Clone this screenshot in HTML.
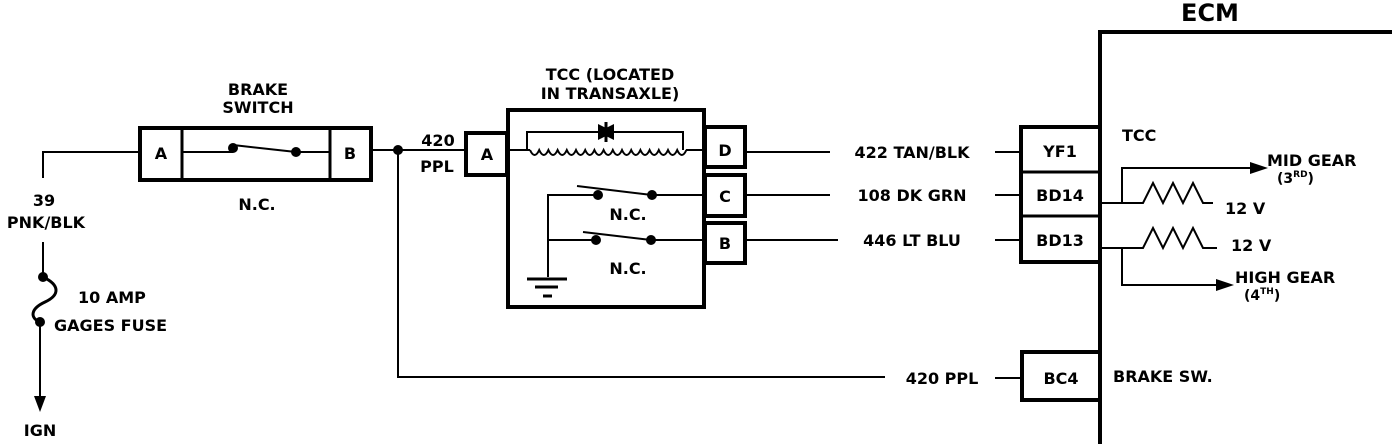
<!DOCTYPE html>
<html><head><meta charset="utf-8"><style>
html,body{margin:0;padding:0;background:#fff}
svg{display:block}
text{font-family:"DejaVu Sans","Liberation Sans",sans-serif;font-weight:bold;fill:#000}
</style></head><body>
<svg width="1392" height="444" viewBox="0 0 1392 444" xmlns="http://www.w3.org/2000/svg">
<g stroke="#000" fill="none" stroke-width="2">
<!-- left feed -->
<polyline points="140,152 43,152 43,178"/>
<line x1="43" y1="242" x2="43" y2="277"/>
<path d="M43,277 C60,285 60,295 45,302 C30,309 30,318 40,322" stroke-width="3"/>
<line x1="40" y1="322" x2="40" y2="398"/>
<!-- brake switch -->
<rect x="140" y="128" width="231" height="52" stroke-width="4"/>
<line x1="182" y1="128" x2="182" y2="180" stroke-width="3"/>
<line x1="330" y1="128" x2="330" y2="180" stroke-width="3"/>
<line x1="182" y1="152" x2="233" y2="152"/>
<line x1="233" y1="145" x2="296" y2="152"/>
<line x1="296" y1="152" x2="330" y2="152"/>
<!-- 420 ppl -->
<line x1="371" y1="150" x2="466" y2="150"/>
<polyline points="398,150 398,377 885,377"/>
<!-- TCC -->
<rect x="466" y="133" width="41" height="42" stroke-width="4"/>
<rect x="508" y="110" width="196" height="197" stroke-width="4"/>
<line x1="508" y1="150" x2="530" y2="150"/>
<path d="M530,150 q4.6,10 9.2,0 q4.6,10 9.2,0 q4.6,10 9.2,0 q4.6,10 9.2,0 q4.6,10 9.2,0 q4.6,10 9.2,0 q4.6,10 9.2,0 q4.6,10 9.2,0 q4.6,10 9.2,0 q4.6,10 9.2,0 q4.6,10 9.2,0 q4.6,10 9.2,0 q4.6,10 9.2,0 q4.6,10 9.2,0 q4.6,10 9.2,0 q4.6,10 9.2,0 q4.6,10 9.2,0"/>
<line x1="686" y1="150" x2="704" y2="150"/>
<polyline points="527,150 527,132 683,132 683,150"/>
<line x1="606" y1="122" x2="606" y2="142" stroke-width="3"/>
<polyline points="548,277 548,195 598,195"/>
<line x1="577" y1="186" x2="652" y2="195"/>
<line x1="652" y1="195" x2="705" y2="195"/>
<polyline points="548,240 596,240"/>
<line x1="583" y1="232" x2="651" y2="240"/>
<line x1="651" y1="240" x2="705" y2="240"/>
<line x1="527" y1="279" x2="567" y2="279" stroke-width="3"/>
<line x1="535" y1="287" x2="558" y2="287" stroke-width="3"/>
<line x1="543" y1="296" x2="552" y2="296" stroke-width="3"/>
<rect x="705" y="127" width="40" height="40" stroke-width="4"/>
<rect x="705" y="175" width="40" height="41" stroke-width="4"/>
<rect x="705" y="223" width="40" height="40" stroke-width="4"/>
<!-- wires to ECM -->
<line x1="745" y1="152" x2="830" y2="152"/>
<line x1="995" y1="152" x2="1020" y2="152"/>
<line x1="745" y1="195" x2="830" y2="195"/>
<line x1="995" y1="195" x2="1020" y2="195"/>
<line x1="745" y1="240" x2="838" y2="240"/>
<line x1="995" y1="240" x2="1020" y2="240"/>
<line x1="995" y1="378" x2="1022" y2="378"/>
<!-- ECM -->
<polyline points="1392,32 1100,32 1100,444" stroke-width="4"/>
<rect x="1021" y="127" width="79" height="135" stroke-width="4"/>
<line x1="1021" y1="172" x2="1100" y2="172" stroke-width="3"/>
<line x1="1021" y1="216" x2="1100" y2="216" stroke-width="3"/>
<rect x="1022" y="352" width="78" height="48" stroke-width="4"/>
<!-- outputs -->
<polyline points="1100,203 1143,203 1153,183 1163,203 1173,183 1183,203 1193,183 1203,203 1213,203"/>
<polyline points="1122,203 1122,168 1255,168"/>
<polyline points="1100,248 1143,248 1153,228 1163,248 1173,228 1183,248 1193,228 1203,248 1217,248"/>
<polyline points="1122,248 1122,285 1222,285"/>
</g>
<g fill="#000">
<circle cx="43" cy="277" r="5"/><circle cx="40" cy="322" r="5"/>
<polygon points="34,396 46,396 40,412"/>
<circle cx="233" cy="148" r="5"/><circle cx="296" cy="152" r="5"/>
<circle cx="398" cy="150" r="5"/>
<polygon points="598,124 598,140 614,132"/>
<polygon points="614,124 614,140 598,132"/>
<circle cx="598" cy="195" r="5"/><circle cx="652" cy="195" r="5"/>
<circle cx="596" cy="240" r="5"/><circle cx="651" cy="240" r="5"/>
<polygon points="1250,162 1268,168 1250,174"/>
<polygon points="1216,279 1234,285 1216,291"/>
</g>
<g font-size="16">
<text x="44" y="206" text-anchor="middle">39</text>
<text x="46" y="228" text-anchor="middle">PNK/BLK</text>
<text x="78" y="303">10 AMP</text>
<text x="54" y="331">GAGES FUSE</text>
<text x="40" y="436" text-anchor="middle">IGN</text>
<text x="258" y="95" text-anchor="middle">BRAKE</text>
<text x="258" y="113" text-anchor="middle">SWITCH</text>
<text x="161" y="159" text-anchor="middle">A</text>
<text x="350" y="159" text-anchor="middle">B</text>
<text x="257" y="210" text-anchor="middle">N.C.</text>
<text x="438" y="146" text-anchor="middle">420</text>
<text x="437" y="172" text-anchor="middle">PPL</text>
<text x="487" y="160" text-anchor="middle">A</text>
<text x="610" y="80" text-anchor="middle">TCC (LOCATED</text>
<text x="610" y="99" text-anchor="middle">IN TRANSAXLE)</text>
<text x="628" y="220" text-anchor="middle">N.C.</text>
<text x="628" y="274" text-anchor="middle">N.C.</text>
<text x="725" y="156" text-anchor="middle">D</text>
<text x="725" y="202" text-anchor="middle">C</text>
<text x="725" y="249" text-anchor="middle">B</text>
<text x="912" y="158" text-anchor="middle">422 TAN/BLK</text>
<text x="912" y="201" text-anchor="middle">108 DK GRN</text>
<text x="912" y="246" text-anchor="middle">446 LT BLU</text>
<text x="942" y="384" text-anchor="middle">420 PPL</text>
<text x="1060" y="157" text-anchor="middle">YF1</text>
<text x="1060" y="201" text-anchor="middle">BD14</text>
<text x="1060" y="246" text-anchor="middle">BD13</text>
<text x="1061" y="384" text-anchor="middle">BC4</text>
<text x="1113" y="382">BRAKE  SW.</text>
<text x="1122" y="141">TCC</text>
<text x="1267" y="166">MID GEAR</text>
<text x="1277" y="183" font-size="14">(3<tspan font-size="9" dy="-6">RD</tspan><tspan dy="6">)</tspan></text>
<text x="1225" y="214">12 V</text>
<text x="1231" y="251">12 V</text>
<text x="1235" y="283">HIGH GEAR</text>
<text x="1244" y="300" font-size="14">(4<tspan font-size="9" dy="-6">TH</tspan><tspan dy="6">)</tspan></text>
<text x="1210" y="21" text-anchor="middle" font-size="24">ECM</text>
</g>
</svg>
</body></html>
